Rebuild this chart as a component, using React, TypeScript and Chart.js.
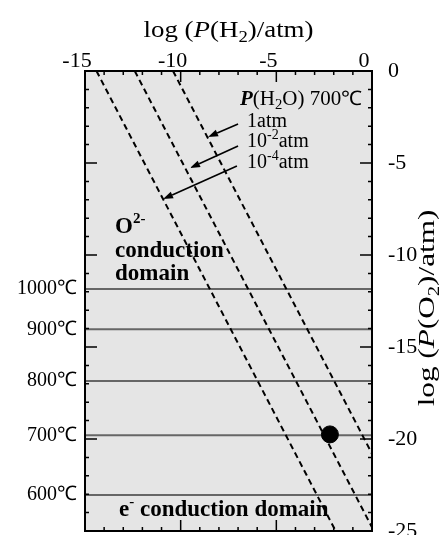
import React, { useEffect, useRef } from "react";
import { Chart, registerables } from "chart.js";
Chart.register(...registerables);

const SERIF = '"Liberation Serif", "Times New Roman", serif';

// Axis ranges / ticks
const h2Min = -15;
const h2Max = 0;
const h2Step = 5;
const o2Min = -25;
const o2Max = 0;
const o2Step = 5;
const minorStep = 1;

// Temperature lines (log P(O2) at which each temperature lies)
const tempLabels = ["1000℃", "900℃", "800℃", "700℃", "600℃"];
const tempLogPO2 = [-11.85, -14.04, -16.85, -19.8, -23.04];

// Dashed equilibrium lines for P(H2O) = 1, 1e-2, 1e-4 atm (endpoints)
const line1atm = [{ x: -10.4, y: 0 }, { x: 0, y: -20.8 }];
const line1e2 = [{ x: -12.4, y: 0 }, { x: 0, y: -24.8 }];
const line1e4 = [{ x: -14.4, y: 0 }, { x: -1.9, y: -25 }];

// Operating point
const point700 = [{ x: -2.2, y: -19.75 }];

// Arrows (data coords): tail -> tip
const arrows = [
  { from: { x: -7.0, y: -2.88 }, to: { x: -8.57, y: -3.59 } },
  { from: { x: -7.0, y: -4.08 }, to: { x: -9.51, y: -5.27 } },
  { from: { x: -7.06, y: -5.16 }, to: { x: -10.92, y: -6.96 } },
];

type Seg = { t: string; font: string; dy?: number };

function drawRich(
  ctx: CanvasRenderingContext2D,
  segs: Seg[],
  x: number,
  y: number,
  align: "left" | "center",
  sx = 1
) {
  ctx.save();
  ctx.textAlign = "left";
  ctx.textBaseline = "alphabetic";
  let total = 0;
  const widths = segs.map((s) => {
    ctx.font = s.font;
    const w = ctx.measureText(s.t).width;
    total += w;
    return w;
  });
  ctx.translate(x, y);
  ctx.scale(sx, 1);
  let cx = align === "center" ? -total / 2 : 0;
  segs.forEach((s, i) => {
    ctx.font = s.font;
    ctx.fillText(s.t, cx, s.dy || 0);
    cx += widths[i];
  });
  ctx.restore();
}

const f = (size: number, style = "") => `${style} ${size}px ${SERIF}`.trim();

const decorPlugin = {
  id: "decor",
  beforeDatasetsDraw(chart: any) {
    const { ctx, chartArea: a } = chart;
    ctx.save();
    ctx.fillStyle = "#e5e5e5";
    ctx.fillRect(a.left, a.top, a.right - a.left, a.bottom - a.top);
    ctx.restore();
  },
  afterDatasetsDraw(chart: any) {
    const { ctx, chartArea: a } = chart;
    const xs = chart.scales.x;
    const ys = chart.scales.y;
    const px = (p: { x: number; y: number }) => ({ x: xs.getPixelForValue(p.x), y: ys.getPixelForValue(p.y) });
    ctx.save();
    ctx.strokeStyle = "#000";
    ctx.lineWidth = 1.5;
    // tick marks (inward)
    for (let v = h2Min; v <= h2Max; v += minorStep) {
      const x = xs.getPixelForValue(v);
      const len = v % h2Step === 0 ? 11 : 4;
      ctx.beginPath();
      ctx.moveTo(x, a.top);
      ctx.lineTo(x, a.top + len);
      ctx.moveTo(x, a.bottom);
      ctx.lineTo(x, a.bottom - len);
      ctx.stroke();
    }
    for (let v = o2Min; v <= o2Max; v += minorStep) {
      const y = ys.getPixelForValue(v);
      const len = v % o2Step === 0 ? 12 : 4;
      ctx.beginPath();
      ctx.moveTo(a.left, y);
      ctx.lineTo(a.left + len, y);
      ctx.moveTo(a.right, y);
      ctx.lineTo(a.right - len, y);
      ctx.stroke();
    }
    // frame
    ctx.lineWidth = 2;
    ctx.strokeRect(a.left, a.top, a.right - a.left, a.bottom - a.top);

    // arrows
    ctx.lineWidth = 1.6;
    ctx.fillStyle = "#000";
    arrows.forEach((ar) => {
      const p0 = px(ar.from);
      const p1 = px(ar.to);
      const ang = Math.atan2(p1.y - p0.y, p1.x - p0.x);
      const hl = 10;
      const hw = 3.5;
      const bx = p1.x - hl * Math.cos(ang);
      const by = p1.y - hl * Math.sin(ang);
      ctx.beginPath();
      ctx.moveTo(p0.x, p0.y);
      ctx.lineTo(bx, by);
      ctx.stroke();
      ctx.beginPath();
      ctx.moveTo(p1.x, p1.y);
      ctx.lineTo(bx + hw * Math.sin(ang), by - hw * Math.cos(ang));
      ctx.lineTo(bx - hw * Math.sin(ang), by + hw * Math.cos(ang));
      ctx.closePath();
      ctx.fill();
    });

    // annotations
    ctx.fillStyle = "#000";
    let p = px({ x: -6.9, y: -1.85 });
    drawRich(ctx, [
      { t: "P", font: f(20, "italic bold") },
      { t: "(H", font: f(20) },
      { t: "2", font: f(14), dy: 4 },
      { t: "O) 700℃", font: f(20) },
    ], p.x, p.y, "left", 1.05);
    p = px({ x: -6.53, y: -3.04 });
    drawRich(ctx, [{ t: "1atm", font: f(20) }], p.x, p.y, "left");
    p = px({ x: -6.53, y: -4.13 });
    drawRich(ctx, [
      { t: "10", font: f(20) },
      { t: "-2", font: f(14), dy: -8 },
      { t: "atm", font: f(20) },
    ], p.x, p.y, "left");
    p = px({ x: -6.53, y: -5.27 });
    drawRich(ctx, [
      { t: "10", font: f(20) },
      { t: "-4", font: f(14), dy: -8 },
      { t: "atm", font: f(20) },
    ], p.x, p.y, "left");
    p = px({ x: -13.43, y: -8.8 });
    drawRich(ctx, [
      { t: "O", font: f(23, "bold") },
      { t: "2-", font: f(15, "bold"), dy: -10 },
    ], p.x, p.y, "left");
    p = px({ x: -13.43, y: -10.11 });
    drawRich(ctx, [{ t: "conduction", font: f(23, "bold") }], p.x, p.y, "left");
    p = px({ x: -13.43, y: -11.36 });
    drawRich(ctx, [{ t: "domain", font: f(23, "bold") }], p.x, p.y, "left");
    p = px({ x: -13.22, y: -24.18 });
    drawRich(ctx, [
      { t: "e", font: f(23, "bold") },
      { t: "-", font: f(15, "bold"), dy: -10 },
      { t: " conduction domain", font: f(23, "bold") },
    ], p.x, p.y, "left");

    // axis titles
    drawRich(ctx, [
      { t: "log (", font: f(23) },
      { t: "P", font: f(23, "italic") },
      { t: "(H", font: f(23) },
      { t: "2", font: f(16), dy: 5 },
      { t: ")/atm)", font: f(23) },
    ], (a.left + a.right) / 2, 37, "center", 1.17);

    ctx.translate(a.right + 62, 308);
    ctx.rotate(-Math.PI / 2);
    drawRich(ctx, [
      { t: "log (", font: f(24) },
      { t: "P", font: f(24, "italic") },
      { t: "(O", font: f(24) },
      { t: "2", font: f(16), dy: 5 },
      { t: ")/atm)", font: f(24) },
    ], 0, 0, "center", 1.3);
    ctx.restore();
  },
};

export default function App() {
  const ref = useRef<HTMLCanvasElement>(null);
  useEffect(() => {
    const tempDatasets = tempLogPO2.map((v, i) => ({
      label: tempLabels[i],
      data: [{ x: h2Min, y: v }, { x: h2Max, y: v }],
      showLine: true,
      borderColor: "#666666",
      borderWidth: 2,
      pointRadius: 0,
      order: 5,
    }));
    const dashed = (data: any, label: string) => ({
      label,
      data,
      showLine: true,
      borderColor: "#000",
      borderWidth: 2,
      borderDash: [6, 4],
      pointRadius: 0,
      order: 3,
    });
    const noPadY = (s: any, w: number) => {
      s.width = w;
      s.paddingTop = 0;
      s.paddingBottom = 0;
    };
    const chart = new Chart(ref.current!, {
      type: "scatter",
      data: {
        datasets: [
          {
            label: "700℃ point",
            data: point700,
            pointRadius: 8.5,
            pointBackgroundColor: "#000",
            pointBorderColor: "#000",
            order: 1,
          } as any,
          dashed(line1atm, "1atm"),
          dashed(line1e2, "1e-2atm"),
          dashed(line1e4, "1e-4atm"),
          ...tempDatasets,
        ],
      },
      options: {
        animation: false,
        responsive: true,
        maintainAspectRatio: false,
        layout: { autoPadding: false, padding: { top: 0, left: 0, right: 0, bottom: 4 } },
        plugins: { legend: { display: false }, tooltip: { enabled: false } },
        scales: {
          x: {
            type: "linear",
            position: "top",
            min: h2Min,
            max: h2Max,
            grid: { display: false, drawTicks: false },
            border: { display: false },
            ticks: {
              stepSize: h2Step,
              labelOffset: -8,
              padding: -3,
              maxRotation: 0,
              color: "#000",
              font: { family: SERIF, size: 22 },
            },
            afterFit: (s: any) => {
              s.height = 71;
              s.paddingLeft = 0;
              s.paddingRight = 0;
            },
          },
          y: {
            type: "linear",
            position: "right",
            min: o2Min,
            max: o2Max,
            grid: { display: false, drawTicks: false },
            border: { display: false },
            ticks: {
              stepSize: o2Step,
              padding: 16,
              color: "#000",
              font: { family: SERIF, size: 22 },
            },
            afterFit: (s: any) => noPadY(s, 71),
          },
          yl: {
            type: "linear",
            position: "left",
            min: o2Min,
            max: o2Max,
            grid: { display: false, drawTicks: false },
            border: { display: false },
            afterBuildTicks: (s: any) => {
              s.ticks = tempLogPO2.map((v) => ({ value: v }));
            },
            ticks: {
              autoSkip: false,
              padding: 8,
              color: "#000",
              font: { family: SERIF, size: 20 },
              callback: (_v: any, i: number) => tempLabels[i],
            },
            afterFit: (s: any) => noPadY(s, 85),
          },
        } as any,
      },
      plugins: [decorPlugin],
    });
    return () => chart.destroy();
  }, []);
  return (
    <div style={{ position: "absolute", left: 0, top: 0, width: 443, height: 535 }}>
      <canvas ref={ref} />
    </div>
  );
}
